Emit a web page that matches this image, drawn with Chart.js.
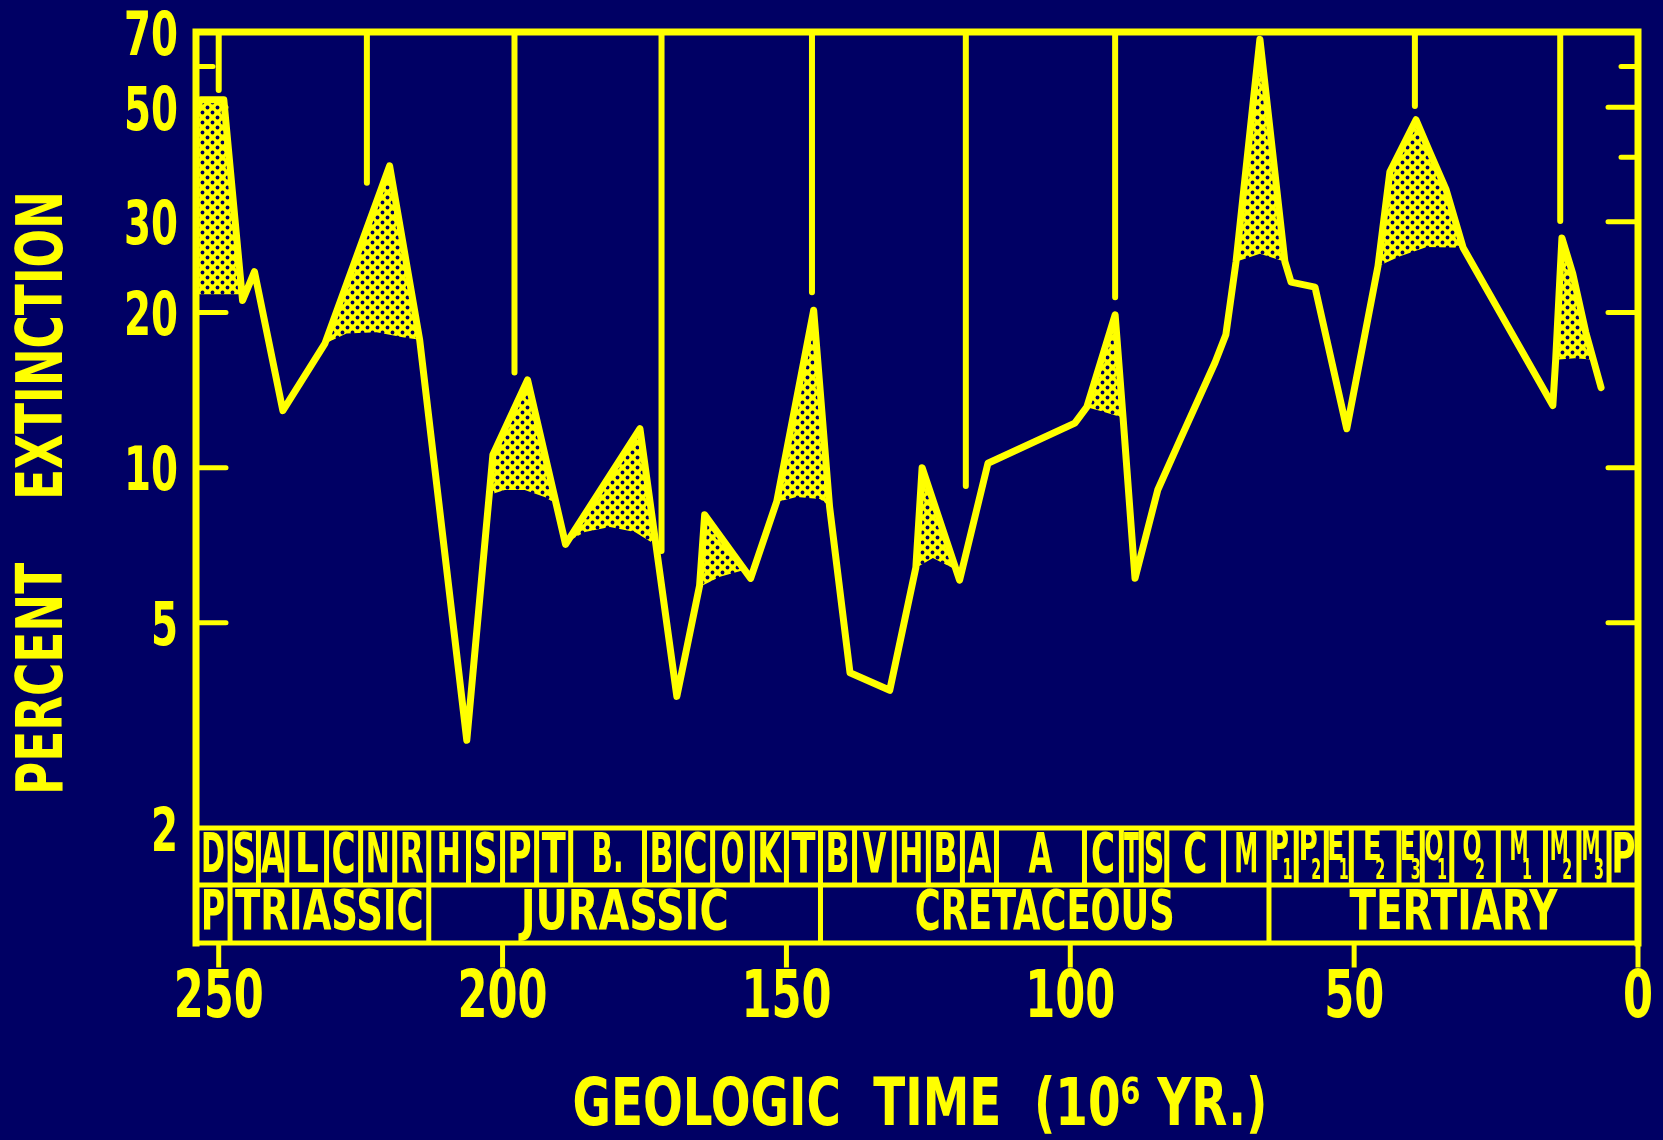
<!DOCTYPE html>
<html><head><meta charset="utf-8">
<script src="https://cdn.jsdelivr.net/npm/chart.js@4.4.1/dist/chart.umd.min.js"></script>
<style>html,body{margin:0;padding:0;background:#000064;}canvas{display:block;}</style>
</head><body>
<canvas id="c" width="1663" height="1140" style="width:1663px;height:1140px"></canvas>
<script>
// ---- data (time in millions of years ago, percent extinction) ----
const mainTime = [253.9,253.2,249.1,245.8,243.7,238.7,231.3,219.9,214.6,206.3,201.7,195.6,188.9,175.8,169.3,165.3,164.4,156.3,151.7,145.2,142.4,138.8,131.8,127.2,126.1,119.5,114.5,99.2,97.1,92.1,90.7,88.6,84.6,80.7,74.5,72.6,70.8,66.6,62.2,61.1,56.9,51.3,45.8,43.7,39.1,36.7,33.8,30.8,15.0,14.5,13.4,11.5,9.2,6.5];
const mainPct  = [49.8,51.7,51.7,21.1,24.0,12.9,17.4,38.5,17.7,2.96,10.6,14.8,7.1,11.9,3.6,5.9,8.1,6.1,8.6,20.2,8.4,4.0,3.7,6.4,10.0,6.05,10.2,12.2,13.1,19.8,12.5,6.1,9.05,11.3,16.0,18.1,25.1,67.8,25.1,22.9,22.4,11.9,24.6,37.5,47.3,41.0,34.6,26.7,13.2,16.2,27.9,23.8,18.3,14.3];

// stippled ranges: upper edge and lower edge of each peak
const shadeUpper = [
  [[253.9,49.8],[253.2,51.7],[249.1,51.7],[246.0,21.7]],
  [[231.3,17.4],[219.9,38.5],[214.6,17.7]],
  [[202.4,8.85],[201.7,10.6],[195.6,14.8],[190.5,8.5]],
  [[188.9,7.14],[175.8,11.9],[173.0,7.08]],
  [[165.3,5.87],[164.4,8.08],[157.45,6.33]],
  [[151.7,8.58],[145.2,20.2],[142.4,8.42]],
  [[127.2,6.39],[126.1,9.98],[120.05,6.33]],
  [[97.1,13.1],[92.1,19.8],[90.7,12.5]],
  [[70.8,25.1],[66.6,67.8],[62.2,25.1]],
  [[45.8,24.6],[43.7,37.5],[39.1,47.3],[36.7,41.0],[33.8,34.6],[30.8,26.7]],
  [[14.5,16.2],[13.4,27.9],[11.5,23.8],[9.2,18.3],[7.84,16.2]]
];
const shadeLower = [
  [[253.9,21.7],[246.0,21.7]],
  [[231.3,17.4],[227.5,18.2],[222.2,18.3],[217.6,17.9],[214.6,17.7]],
  [[202.4,8.85],[199.6,9.05],[196.1,9.05],[192.6,8.77],[190.5,8.5]],
  [[188.9,7.14],[185.5,7.5],[181.1,7.67],[176.7,7.5],[173.0,7.08]],
  [[165.3,5.87],[161.7,6.14],[157.45,6.33]],
  [[151.7,8.58],[148.2,8.77],[144.1,8.69],[142.4,8.42]],
  [[127.2,6.39],[124.2,6.68],[120.05,6.33]],
  [[97.1,13.1],[94.8,12.9],[90.7,12.5]],
  [[70.8,25.1],[66.6,26.0],[62.2,25.1]],
  [[45.8,24.6],[41.9,25.7],[37.2,26.8],[30.8,26.7]],
  [[14.5,16.2],[11.1,16.3],[7.84,16.2]]
];

// periodic (26 Myr) marker lines hanging from the top
const periodTimes = [250.0,223.9,197.9,172.0,145.5,118.4,92.1,39.3,13.7];
const periodEnds  = [54.0,35.7,15.3,6.89,21.9,9.21,21.4,50.3,30.1];

// stages and periods
const stageLabels = ['D','S','A','L','C','N','R','H','S','P','T','B.','B','C','O','K','T','B','V','H','B','A','A','C','T','S','C','M','P','P','E','E','E','O','O','M','M','M','P'];
const stageSubs   = ['','','','','','','','','','','','','','','','','','','','','','','','','','','','','1','2','1','2','3','1','2','1','2','3',''];
const stageBounds = [254,248,243,238,231,225,219,213,206,200,194,188,175,169,163,156,150,144,138,131,125,119,113,97.5,91,87.5,83,73,65,60.2,54.9,50.5,42.1,38,32.8,24.6,16.3,10.4,5.1,0];
const periodLabels = ['P','TRIASSIC','JURASSIC','CRETACEOUS','TERTIARY'];
const periodBounds = [254,248,213,144,65,0];

// axes
const xTickValues = [250,200,150,100,50,0];
const yTickValues = [2,5,10,20,30,40,50,60,70];
const yLabelValues = [2,5,10,20,30,50,70];
const xTitle = 'GEOLOGIC  TIME  (10\u2076 YR.)';
const yTitle = 'PERCENT    EXTINCTION';

// ---- style ----
const YELLOW = '#ffff00', NAVY = '#000064';
const FONT = "'Liberation Sans Narrow','DejaVu Sans Condensed','DejaVu Sans',sans-serif";

function makePattern() {
  const t = document.createElement('canvas'); t.width = 10; t.height = 10;
  const g = t.getContext('2d');
  g.fillStyle = YELLOW; g.fillRect(0, 0, 10, 10);
  g.fillStyle = NAVY;
  [[2.5,2.5],[7.5,7.5]].forEach(([x, y]) => { g.beginPath(); g.arc(x, y, 1.9, 0, Math.PI * 2); g.fill(); });
  return g.createPattern(t, 'repeat');
}
const stipple = makePattern();

const datasets = [];
datasets.push({label: 'extinction', data: mainTime.map((t, i) => ({x: t, y: mainPct[i]})),
  borderColor: YELLOW, borderWidth: 7, borderJoinStyle: 'round', borderCapStyle: 'round',
  pointRadius: 0, fill: false, tension: 0, order: 0});
periodTimes.forEach((t, i) => datasets.push({label: 'period' + i,
  data: [{x: t, y: 70}, {x: t, y: periodEnds[i]}],
  borderColor: YELLOW, borderWidth: 6, borderCapStyle: 'round', pointRadius: 0, fill: false, order: 1}));
shadeUpper.forEach((up, i) => {
  datasets.push({label: 'shadeTop' + i, data: up.map(([x, y]) => ({x, y})),
    borderWidth: 0, borderColor: 'rgba(0,0,0,0)', backgroundColor: stipple, fill: '+1', pointRadius: 0, tension: 0, order: 2});
  datasets.push({label: 'shadeBase' + i, data: shadeLower[i].map(([x, y]) => ({x, y})),
    borderWidth: 0, borderColor: 'rgba(0,0,0,0)', fill: false, pointRadius: 0, tension: 0, order: 2});
});

// text fitted to a width (exact) or compressed to at most maxW
function drawText(ctx, text, cx, cy, size, maxW, rot, exact) {
  ctx.save();
  ctx.font = 'bold ' + size + 'px ' + FONT;
  const w = ctx.measureText(text).width;
  const s = exact ? maxW / w : Math.min(1, maxW / w);
  ctx.translate(cx, cy);
  if (rot) ctx.rotate(rot);
  ctx.scale(s, 1);
  ctx.textAlign = 'center'; ctx.textBaseline = 'middle'; ctx.fillStyle = YELLOW;
  ctx.fillText(text, 0, 0);
  ctx.restore();
}
// tick label with condensed digits (digitW = width of one digit)
function drawTick(ctx, text, x, y, size, digitW, align) {
  ctx.save();
  ctx.font = 'bold ' + size + 'px ' + FONT;
  const s = digitW / ctx.measureText('0').width;
  ctx.translate(x, y); ctx.scale(s, 1);
  ctx.textAlign = align; ctx.textBaseline = 'middle'; ctx.fillStyle = YELLOW;
  ctx.fillText(text, 0, 0);
  ctx.restore();
}

const framePlugin = {
  id: 'frame',
  beforeDraw(chart) {
    const c = chart.ctx; c.save(); c.fillStyle = NAVY; c.fillRect(0, 0, chart.width, chart.height); c.restore();
  },
  beforeDatasetsDraw(chart) {
    const c = chart.ctx, a = chart.chartArea, ys = chart.scales.y;
    c.save(); c.strokeStyle = YELLOW; c.lineWidth = 5; c.lineCap = 'round';
    ys.ticks.forEach(t => {
      const v = t.value;
      if (v === 2 || v === 70) return;
      const py = ys.getPixelForValue(v);
      const len = yLabelValues.includes(v) ? 30 : 17;
      c.beginPath(); c.moveTo(a.left, py); c.lineTo(a.left + len, py);
      c.moveTo(a.right, py); c.lineTo(a.right - len, py); c.stroke();
    });
    c.restore();
  },
  afterDraw(chart) {
    const c = chart.ctx, a = chart.chartArea, xs = chart.scales.x, ys = chart.scales.y;
    const top = a.bottom, mid = a.bottom + 57, bot = a.bottom + 115;
    c.save();
    c.strokeStyle = YELLOW; c.lineCap = 'square';
    // frame
    c.lineWidth = 7;
    c.beginPath();
    c.moveTo(a.left, bot); c.lineTo(a.left, a.top); c.lineTo(a.right, a.top); c.lineTo(a.right, bot);
    c.stroke();
    // stage boxes
    c.lineWidth = 5;
    c.beginPath();
    [top, mid, bot].forEach(y => { c.moveTo(a.left, y); c.lineTo(a.right, y); });
    stageBounds.slice(1, -1).forEach(b => { const px = xs.getPixelForValue(b); c.moveTo(px, top); c.lineTo(px, mid); });
    periodBounds.slice(1, -1).forEach(b => { const px = xs.getPixelForValue(b); c.moveTo(px, mid); c.lineTo(px, bot); });
    // x tick marks below the boxes
    xs.ticks.forEach(t => { const px = xs.getPixelForValue(t.value); c.moveTo(px, bot); c.lineTo(px, bot + 22); });
    c.stroke();
    // tick labels from the scales
    xs.ticks.forEach(t => drawTick(c, String(t.value), xs.getPixelForValue(t.value), bot + 57, 66, 30, 'center'));
    ys.ticks.forEach(t => {
      if (!yLabelValues.includes(t.value)) return;
      drawTick(c, String(t.value), a.left - 18, ys.getPixelForValue(t.value) + 7, 60, 27, 'right');
    });
    // stage letters
    stageLabels.forEach((lab, i) => {
      const x0 = xs.getPixelForValue(stageBounds[i]), x1 = xs.getPixelForValue(stageBounds[i + 1]);
      const w = x1 - x0, cx = (x0 + x1) / 2;
      if (stageSubs[i]) {
        drawText(c, lab, cx - 3, top + 21, 42, Math.min(w - 8, 19));
        drawText(c, stageSubs[i], cx + 5, top + 44, 28, 10);
      } else {
        drawText(c, lab, cx, top + 29, 56, Math.min(w - 5, lab.length > 1 ? 32 : 24));
      }
    });
    periodLabels.forEach((lab, i) => {
      const x0 = xs.getPixelForValue(periodBounds[i]), x1 = xs.getPixelForValue(periodBounds[i + 1]);
      drawText(c, lab, (x0 + x1) / 2, mid + 29, 56, Math.min(x1 - x0 - 10, 26 * lab.length));
    });
    // axis titles
    drawText(c, xTitle, 920, 1108, 66, 695, 0, true);
    drawText(c, yTitle, 45, 493, 64, 604, -Math.PI / 2, true);
    c.restore();
  }
};

new Chart(document.getElementById('c').getContext('2d'), {
  type: 'line',
  data: {datasets},
  options: {
    responsive: false, animation: false, devicePixelRatio: 1,
    layout: {padding: {top: 32, right: 25, left: 0, bottom: 0}},
    plugins: {legend: {display: false}, tooltip: {enabled: false}},
    scales: {
      x: {type: 'linear', reverse: true, min: 0, max: 254,
        grid: {display: false, drawTicks: false}, border: {display: false},
        afterBuildTicks: s => { s.ticks = xTickValues.map(v => ({value: v})); },
        afterFit: s => { s.height = 312; s.paddingLeft = 0; s.paddingRight = 0; },
        ticks: {display: false, autoSkip: false}},
      y: {type: 'logarithmic', min: 2, max: 70,
        grid: {display: false, drawTicks: false}, border: {display: false},
        afterBuildTicks: s => { s.ticks = yTickValues.map(v => ({value: v})); },
        afterFit: s => { s.width = 196; s.paddingTop = 0; s.paddingBottom = 0; },
        ticks: {display: false, autoSkip: false}}
    }
  },
  plugins: [framePlugin]
});
</script></body></html>
